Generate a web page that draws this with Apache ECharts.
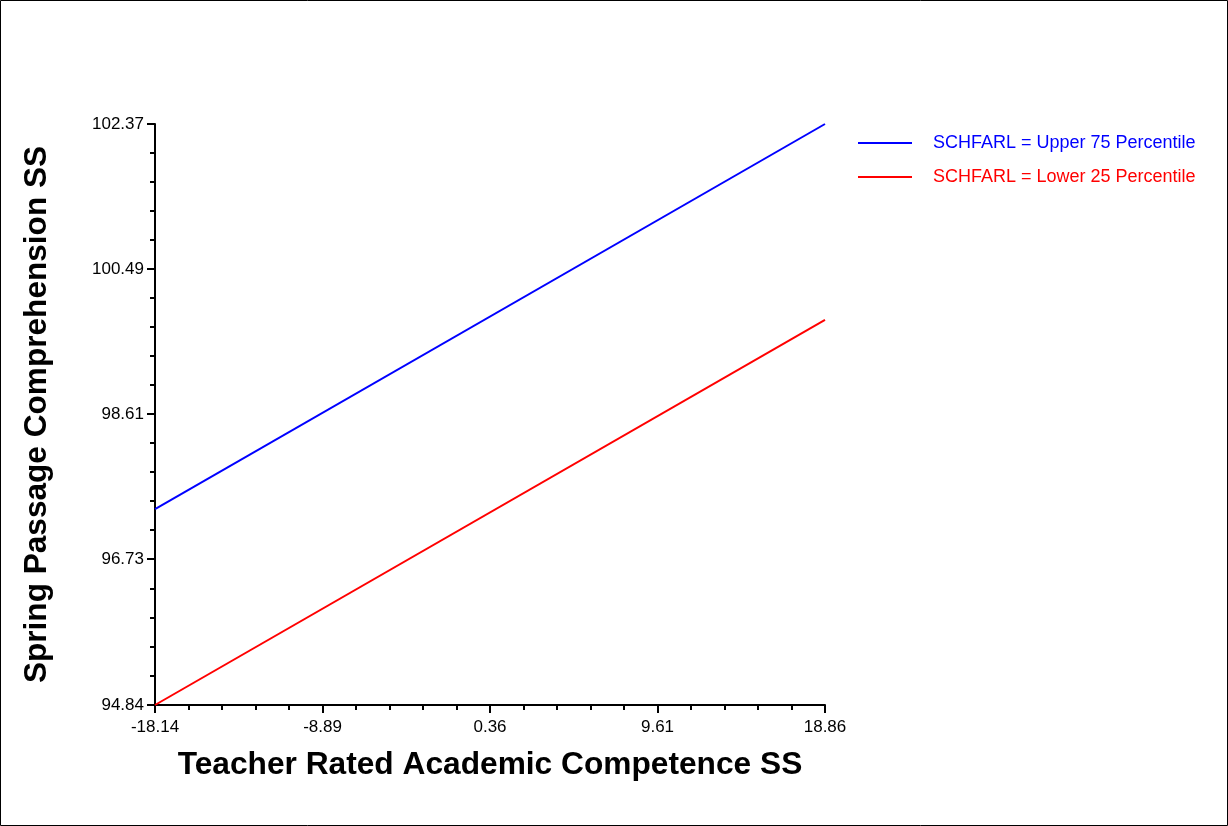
<!DOCTYPE html>
<html>
<head>
<meta charset="utf-8">
<script src="https://cdn.jsdelivr.net/npm/echarts@6/dist/echarts.min.js"></script>
<style>
  html, body { margin: 0; padding: 0; background: #fff; }
  #chart { width: 1228px; height: 826px; }
</style>
</head>
<body>
<div id="chart"></div>
<script>
// Predicted lines: spring passage comprehension by teacher-rated competence
const xEnds = [-18.14, 18.86];
const upper75 = [97.38, 102.37];
const lower25 = [94.84, 99.83];

const xTicks = [-18.14, -8.89, 0.36, 9.61, 18.86];
const yTicks = [94.84, 96.73, 98.61, 100.49, 102.37];

const seriesNames = ['SCHFARL = Upper 75 Percentile', 'SCHFARL = Lower 25 Percentile'];
const seriesColors = ['#0000ff', '#ff0000'];

// minor tick marks: four between each pair of labelled ticks
function minors(majors, parts) {
  const out = [];
  for (let i = 0; i < majors.length - 1; i++) {
    const a = majors[i], b = majors[i + 1];
    for (let k = 1; k < parts; k++) out.push(a + (b - a) * k / parts);
  }
  return out;
}

const FONT = '"Liberation Sans", Arial, Helvetica, sans-serif';

const chart = echarts.init(document.getElementById('chart'), null, { renderer: 'canvas' });

const baseX = {
  type: 'value', min: xTicks[0], max: xTicks[xTicks.length - 1],
  position: 'bottom', splitLine: { show: false }
};
const baseY = {
  type: 'value', min: yTicks[0], max: yTicks[yTicks.length - 1],
  position: 'left', splitLine: { show: false }
};

chart.setOption({
  animation: false,
  backgroundColor: '#ffffff',
  grid: { left: 155, top: 124, right: 403, bottom: 121, containLabel: false },
  legend: {
    orient: 'vertical',
    left: 858,
    top: 134,
    padding: 0,
    itemWidth: 54,
    itemHeight: 2,
    itemGap: 16,
    icon: 'rect',
    data: seriesNames.map((n, i) => ({
      name: n,
      itemStyle: { color: seriesColors[i] },
      textStyle: { color: seriesColors[i] }
    })),
    textStyle: { fontFamily: FONT, fontSize: 18, padding: [0, 0, 0, 16] }
  },
  xAxis: [
    Object.assign({}, baseX, {
      name: 'Teacher Rated Academic Competence SS',
      nameLocation: 'middle',
      nameGap: 44,
      nameTextStyle: { fontFamily: FONT, fontSize: 31.7, fontWeight: 'bold', color: '#000' },
      axisLine: { show: true, onZero: false, lineStyle: { color: '#000', width: 2 } },
      axisTick: { show: true, customValues: xTicks, length: 8, lineStyle: { color: '#000', width: 2 } },
      axisLabel: {
        show: true, customValues: xTicks, margin: 14,
        fontFamily: FONT, fontSize: 17, color: '#000',
        formatter: v => v.toFixed(2)
      }
    }),
    Object.assign({}, baseX, {
      axisLine: { show: false, onZero: false },
      axisTick: { show: true, customValues: minors(xTicks, 5), length: 5, lineStyle: { color: '#000', width: 2 } },
      axisLabel: { show: false }
    })
  ],
  yAxis: [
    Object.assign({}, baseY, {
      name: 'Spring Passage Comprehension SS',
      nameLocation: 'middle',
      nameGap: 102,
      nameRotate: 90,
      nameTextStyle: { fontFamily: FONT, fontSize: 31.6, fontWeight: 'bold', color: '#000' },
      axisLine: { show: true, onZero: false, lineStyle: { color: '#000', width: 2 } },
      axisTick: { show: true, customValues: yTicks, length: 8, lineStyle: { color: '#000', width: 2 } },
      axisLabel: {
        show: true, customValues: yTicks, margin: 11,
        fontFamily: FONT, fontSize: 17, color: '#000',
        formatter: v => v.toFixed(2)
      }
    }),
    Object.assign({}, baseY, {
      axisLine: { show: false, onZero: false },
      axisTick: { show: true, customValues: minors(yTicks, 5), length: 5, lineStyle: { color: '#000', width: 2 } },
      axisLabel: { show: false }
    })
  ],
  series: [
    {
      name: seriesNames[0], type: 'line', xAxisIndex: 0, yAxisIndex: 0,
      showSymbol: false, clip: false,
      lineStyle: { color: seriesColors[0], width: 2 },
      itemStyle: { color: seriesColors[0] },
      data: xEnds.map((x, i) => [x, upper75[i]])
    },
    {
      name: seriesNames[1], type: 'line', xAxisIndex: 0, yAxisIndex: 0,
      showSymbol: false, clip: false,
      lineStyle: { color: seriesColors[1], width: 2 },
      itemStyle: { color: seriesColors[1] },
      data: xEnds.map((x, i) => [x, lower25[i]])
    }
  ],
  graphic: [{
    type: 'rect', silent: true,
    shape: { x: 0.5, y: 0.5, width: 1227, height: 825 },
    style: { fill: 'none', stroke: '#000', lineWidth: 1 }
  }]
});
</script>
</body>
</html>
